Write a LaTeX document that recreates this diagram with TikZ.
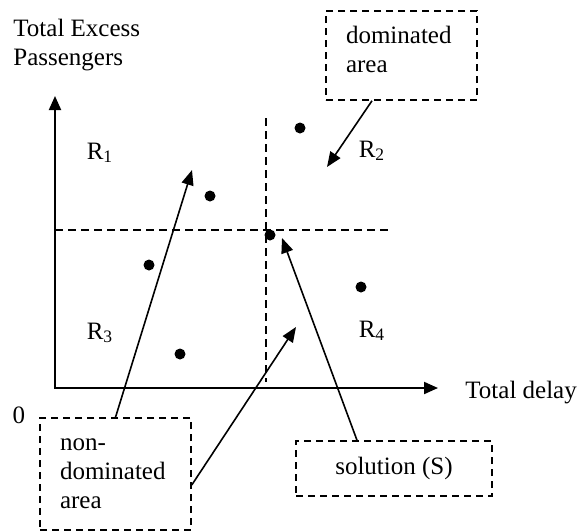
\documentclass[tikz,border=0pt]{standalone}
\usepackage{fontspec}
\setmainfont{Liberation Serif}
\usetikzlibrary{arrows.meta}

\newcommand{\reg}[1]{R\textsubscript{#1}}

\begin{document}
\begin{tikzpicture}[
    x=0.5pt, y=-0.5pt,
    font=\fontsize{12.5pt}{14.5pt}\selectfont,
    axis/.style={line width=1pt, {Triangle[length=7pt, width=6pt]}-{Triangle[length=7pt, width=6pt]}},
    ptr/.style={line width=0.8pt, -{Triangle[length=7.5pt, width=6pt]}},
    split/.style={line width=0.75pt, dash pattern=on 4pt off 2.5pt},
    dot/.style={circle, fill=black, inner sep=0pt, minimum size=5.5pt},
    note/.style={draw, line width=0.75pt, dash pattern=on 3.5pt off 2.5pt, inner sep=0pt}
]
    \useasboundingbox (0,0) rectangle (578,531);

    % axes
    \coordinate (O) at (55,388);
    \coordinate (ytop) at (55,96);
    \coordinate (xend) at (438,388);
    \draw[axis] (ytop) -- (O) -- (xend);
    \node[anchor=north west, inner sep=0pt, align=left] (ylabel) at (13,19) {Total Excess\\Passengers};
    \node[anchor=base west, inner sep=0pt] (xlabel) at (465,398) {Total delay};
    \node (zero) at (19,415) {0};

    % quadrant split through the solution
    \coordinate (hL) at (55,230);
    \coordinate (hR) at (390,230);
    \coordinate (vT) at (266,118);
    \coordinate (vB) at (266,382);
    \draw[split] (hL) -- (hR);
    \draw[split] (vT) -- (vB);

    % regions
    \node (r1) at (100,153) {\reg{1}};
    \node (r2) at (372,151) {\reg{2}};
    \node (r3) at (100,333) {\reg{3}};
    \node (r4) at (372,331) {\reg{4}};

    % points
    \node[dot] (p1) at (300,128) {};
    \node[dot] (p2) at (210,196) {};
    \node[dot] (S) at (270,235) {};
    \node[dot] (p3) at (149,265) {};
    \node[dot] (p4) at (180,354) {};
    \node[dot] (p5) at (361,287) {};

    % notes
    \node[note, minimum width=75.5pt, minimum height=44.5pt, text width=55.5pt, align=left] (dom) at (401.5,55.5)
        {dominated\\area\rule[-6.5pt]{0pt}{0pt}};
    \node[note, minimum width=75.5pt, minimum height=56pt, text width=55.5pt, align=left] (nondom) at (115.5,474)
        {non-\\dominated\\area};
    \node[note, minimum width=98pt, minimum height=27.5pt] (sol) at (394,468.5) {solution (S)};

    \coordinate (t1) at (192,170);
    \coordinate (t2) at (327,167);
    \coordinate (t3) at (296,327);
    \coordinate (t4) at (282,238);
    \draw[ptr] ([xshift=-14.75pt]dom.south) -- (t2);
    \draw[ptr] (nondom.north) -- (t1);
    \draw[ptr] ([yshift=-5.5pt]nondom.east) -- (t3);
    \draw[ptr] ([xshift=-18.5pt]sol.north) -- (t4);
\end{tikzpicture}
\end{document}
